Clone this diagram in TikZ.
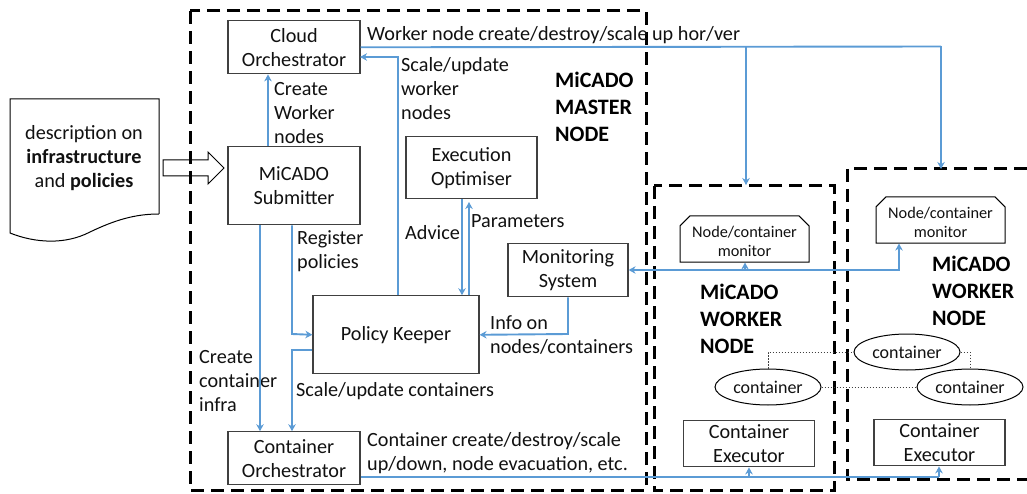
\documentclass[tikz,border=0pt]{standalone}
\usepackage{fontspec}
\setmainfont{Carlito}
\usetikzlibrary{arrows.meta,shapes.geometric,shapes.misc,calc}
\definecolor{lnk}{HTML}{5B9BD5}
\definecolor{edge}{HTML}{404040}
\definecolor{ink}{HTML}{111111}
\newcommand{\montxt}{\rule{0pt}{17pt}Node/container\\monitor}
\tikzset{
  boxn/.style={draw=edge,line width=1.2pt,rectangle,inner sep=0pt,align=center,text=ink,yshift=-0.8pt,font=\fontsize{20.2}{24}\selectfont},
  conn/.style={draw=lnk,line width=1.9pt,-{Stealth[length=7pt,width=7.5pt]}},
  plainconn/.style={draw=lnk,line width=1.9pt},
  dbl/.style={draw=lnk,line width=1.9pt,{Stealth[length=7pt,width=7.5pt]}-{Stealth[length=7pt,width=7.5pt]}},
  region/.style={draw=black,line width=3pt,dash pattern=on 13pt off 7pt},
  lab/.style={anchor=west,inner sep=0pt,align=left,text=ink,font=\fontsize{20.2}{24}\selectfont},
  head/.style={anchor=west,inner sep=0pt,align=left,text=black,font=\fontsize{22}{27}\selectfont\bfseries},
  mon/.style={draw=black,line width=1pt,chamfered rectangle,chamfered rectangle corners={north west,north east},chamfered rectangle xsep=5pt,chamfered rectangle ysep=5pt,minimum width=129pt,minimum height=42pt,inner sep=0pt,align=center,text=ink,font=\fontsize{16.3}{19}\selectfont},
  cont/.style={draw=black,line width=1pt,ellipse,minimum width=106pt,minimum height=36pt,inner sep=0pt,text=ink,font=\fontsize{18}{20}\selectfont},
  dots/.style={draw=edge,line width=1pt,dash pattern=on 1.5pt off 1.5pt},
  bigarrow/.style={draw=black,line width=1pt,fill=none},
}
\begin{document}
\begin{tikzpicture}[x=1pt,y=-1pt]
\useasboundingbox (0,0) rectangle (1027,494);
% regions
\draw[region] (190,11) rectangle (646,490);
\draw[region] (654,186) rectangle (834,490);
\draw[region] (1027,169) -- (847,169) -- (847,479) -- (1027,479);
% document
\draw[draw=black,line width=1pt] (159,214) -- (159,99) -- (10,99) -- (10,233)
  .. controls (35,243) and (65,245) .. (90,232) .. controls (115,220) and (135,214) .. (159,214);
\node[lab,anchor=center,align=center] (doc) at (84,158) {description on\\\textbf{infrastructure}\\and \textbf{policies}};
\draw[bigarrow] (163,160) -- (208,160) -- (208,152) -- (224,168) -- (208,184) -- (208,176) -- (163,176) -- cycle;
% boxes
\node[boxn,minimum width=132pt,minimum height=53pt] (cloud) at (294,46.5) {Cloud\\Orchestrator};
\node[boxn,minimum width=132pt,minimum height=78pt] (sub) at (294,185) {MiCADO\\Submitter};
\node[boxn,minimum width=131pt,minimum height=62pt] (opt) at (471.5,167) {Execution\\Optimiser};
\node[boxn,minimum width=120pt,minimum height=53pt] (ms) at (568,269.5) {Monitoring\\System};
\node[boxn,minimum width=166pt,minimum height=78pt] (pk) at (396,334) {Policy Keeper};
\node[boxn,minimum width=132pt,minimum height=53pt] (co) at (294,457.5) {Container\\Orchestrator};
\node[boxn,minimum width=131pt,minimum height=46pt] (ce1) at (749,443) {Container\\Executor};
\node[boxn,minimum width=131pt,minimum height=46pt] (ce2) at (939.5,442) {Container\\Executor};
\node[mon] (m1) at (744.5,239) {\montxt};
\node[mon] (m2) at (940.5,220) {\montxt};
\node[cont] (c1) at (768,387) {container};
\node[cont] (c2) at (907,352) {container};
\node[cont] (c3) at (970,387) {container};
% labels
\node[lab] (l1) at (367,35) {Worker node create/destroy/scale up hor/ver};
\node[lab] (l2) at (401,89) {Scale/update\\worker\\nodes};
\node[lab] (l3) at (274,113) {Create\\Worker\\nodes};
\node[lab] (l4) at (297,251) {Register\\policies};
\node[lab] (l5) at (405,233) {Advice};
\node[lab] (l6) at (471,221) {Parameters};
\node[lab] (l7) at (490,335.5) {Info on\\nodes/containers};
\node[lab] (l8) at (199,381) {Create\\container\\infra};
\node[lab] (l9) at (296,391) {Scale/update containers};
\node[lab] (l10) at (367,453) {Container create/destroy/scale\\up/down, node evacuation, etc.};
\node[head] (h1) at (555,107) {MiCADO\\MASTER\\NODE};
\node[head] (h2) at (700,319) {MiCADO\\WORKER\\NODE};
\node[head] (h3) at (932,291) {MiCADO\\WORKER\\NODE};
% junctions and free ends
\coordinate (w1top) at (746,185);
\coordinate (w2top) at (941,169);
\coordinate (j1) at (746,46.5);
\coordinate (j2) at (941,46.5);
\coordinate (pkN) at (398,295);
\coordinate (cloudR) at (360,57);
% connectors
\draw[plainconn] (cloud.east) -- (j2);
\draw[conn] (j1) -- (w1top);
\draw[conn] (j2) -- (w2top);
\draw[conn] (pkN) -- (398,57) -- (cloudR);
\draw[conn] (sub.north -| 268,0) -- (cloud.south -| 268,0);
\draw[conn] (sub.south -| 260,0) -- (co.north -| 260,0);
\draw[conn] (sub.south -| 292,0) -- (292,334) -- (pk.west);
\draw[conn] (pk.west |- 0,350) -- (292,350) -- (co.north -| 292,0);
\draw[conn] (opt.south -| 462,0) -- (pk.north -| 462,0);
\draw[conn] (pk.north -| 469,0) -- (469,202);
\draw[conn] (ms.south) -- (568,334) -- (pk.east);
\draw[dbl] (ms.east |- 0,270) -- (899,270) -- (m2.south -| 899,0);
\draw[conn] (745,270) -- (m1.south -| 745,0);
\draw[plainconn] (co.east |- 0,477) -- (939,477);
\draw[conn] (939,477) -- (ce2.south -| 939,0);
\draw[conn] (749,477) -- (ce1.south);
\draw[dots] (c1.north) -- (768,352) -- (c2.west);
\draw[dots] (c1.east) -- (c3.west);
\draw[dots] (c2.east) -- (970,352) -- (c3.north);
\end{tikzpicture}
\end{document}
